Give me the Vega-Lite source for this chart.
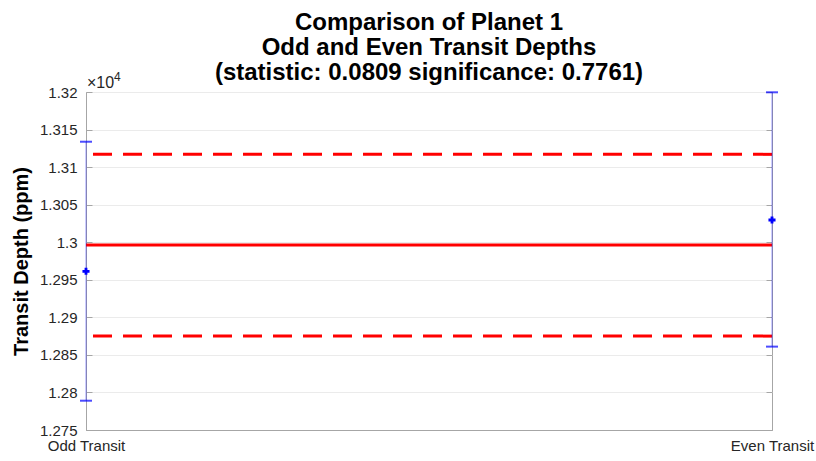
{
  "$schema": "https://vega.github.io/schema/vega-lite/v6.json",
  "width": 686,
  "height": 338,
  "autosize": {"type": "none"},
  "padding": {"left": 86, "top": 92, "right": 44, "bottom": 31},
  "background": "white",
  "config": {
    "font": "Liberation Sans",
    "view": {"stroke": "#a6a6a6", "strokeWidth": 1},
    "axis": {
      "domainColor": "#a6a6a6",
      "tickColor": "#a6a6a6",
      "labelColor": "#262626",
      "labelFont": "Liberation Sans",
      "labelFontSize": 15,
      "gridColor": "#ebebeb",
      "titleColor": "#262626"
    }
  },
  "title": {
    "text": ["Comparison of Planet 1", "Odd and Even Transit Depths", "(statistic: 0.0809 significance: 0.7761)"],
    "font": "Liberation Sans",
    "fontSize": 24,
    "fontWeight": "bold",
    "color": "#000000",
    "lineHeight": 25,
    "anchor": "middle",
    "frame": "group",
    "offset": -11,
    "dy": 3
  },
  "datasets": {
    "depths": [
      {"transit": "Odd Transit", "depth": 12961.3, "lower": 12789.0, "upper": 13133.8},
      {"transit": "Even Transit", "depth": 13029.6, "lower": 12861.0, "upper": 13199.6}
    ],
    "refs": [
      {"kind": "mean", "value": 12996.3},
      {"kind": "upper", "value": 13117.0},
      {"kind": "lower", "value": 12875.0}
    ]
  },
  "layer": [
    {
      "data": {"name": "refs"},
      "transform": [{"filter": "datum.kind == 'mean'"}],
      "mark": {"type": "rule", "color": "#ff0000", "strokeWidth": 3},
      "encoding": {
        "y": {
          "field": "value",
          "type": "quantitative",
          "scale": {"domain": [12750, 13200], "nice": false, "zero": false},
          "axis": {
            "title": "Transit Depth (ppm)",
            "titleFontSize": 20,
            "titleFontWeight": "bold",
            "titleColor": "#000000",
            "titlePadding": 8,
            "values": [12750, 12800, 12850, 12900, 12950, 13000, 13050, 13100, 13150, 13200],
            "labelExpr": "format(datum.value/10000, '.4~f')",
            "tickSize": -6,
            "labelPadding": 15,
            "grid": true,
            "domain": true
          }
        }
      }
    },
    {
      "data": {"name": "refs"},
      "transform": [{"filter": "datum.kind != 'mean'"}],
      "mark": {"type": "rule", "color": "#ff0000", "strokeWidth": 3, "strokeDash": [19, 11]},
      "encoding": {
        "y": {
          "field": "value",
          "type": "quantitative",
          "axis": {
            "orient": "right",
            "title": null,
            "labels": false,
            "grid": false,
            "domain": false,
            "tickSize": -6,
            "values": [12750, 12800, 12850, 12900, 12950, 13000, 13050, 13100, 13150, 13200]
          }
        }
      }
    },
    {
      "data": {"name": "depths"},
      "mark": {"type": "rule", "color": "#0000ff", "strokeWidth": 1, "opacity": 0.4},
      "encoding": {
        "x": {
          "field": "transit",
          "type": "nominal",
          "sort": ["Odd Transit", "Even Transit"],
          "scale": {"type": "point", "padding": 0},
          "axis": {"title": null, "labelAngle": 0, "labelPadding": 14, "tickSize": -6, "grid": false, "labelFontSize": 15}
        },
        "y": {"field": "lower", "type": "quantitative", "axis": null},
        "y2": {"field": "upper"}
      }
    },
    {
      "data": {"name": "depths"},
      "mark": {"type": "tick", "color": "#0000ff", "size": 12, "thickness": 2, "orient": "horizontal", "clip": false},
      "encoding": {
        "x": {"field": "transit", "type": "nominal", "sort": ["Odd Transit", "Even Transit"]},
        "y": {"field": "lower", "type": "quantitative", "axis": null}
      }
    },
    {
      "data": {"name": "depths"},
      "mark": {"type": "tick", "color": "#0000ff", "size": 12, "thickness": 2, "orient": "horizontal", "clip": false},
      "encoding": {
        "x": {"field": "transit", "type": "nominal", "sort": ["Odd Transit", "Even Transit"]},
        "y": {"field": "upper", "type": "quantitative", "axis": null}
      }
    },
    {
      "data": {"name": "depths"},
      "mark": {"type": "point", "shape": "cross", "filled": true, "color": "#0000ff", "size": 50, "opacity": 1},
      "encoding": {
        "x": {"field": "transit", "type": "nominal", "sort": ["Odd Transit", "Even Transit"]},
        "y": {"field": "depth", "type": "quantitative", "axis": null}
      }
    },
    {
      "data": {"values": [{"label": "×10", "transit": "Odd Transit", "pos": 13200}]},
      "mark": {"type": "text", "align": "left", "baseline": "alphabetic", "dx": 1, "dy": -4, "fontSize": 16, "color": "#262626", "font": "Liberation Sans"},
      "encoding": {
        "x": {"field": "transit", "type": "nominal", "sort": ["Odd Transit", "Even Transit"]},
        "y": {"field": "pos", "type": "quantitative", "axis": null},
        "text": {"field": "label"}
      }
    },
    {
      "data": {"values": [{"label": "4", "transit": "Odd Transit", "pos": 13200}]},
      "mark": {"type": "text", "align": "left", "baseline": "alphabetic", "dx": 28, "dy": -11, "fontSize": 12, "color": "#262626", "font": "Liberation Sans"},
      "encoding": {
        "x": {"field": "transit", "type": "nominal", "sort": ["Odd Transit", "Even Transit"]},
        "y": {"field": "pos", "type": "quantitative", "axis": null},
        "text": {"field": "label"}
      }
    }
  ],
  "resolve": {"axis": {"y": "independent"}}
}
